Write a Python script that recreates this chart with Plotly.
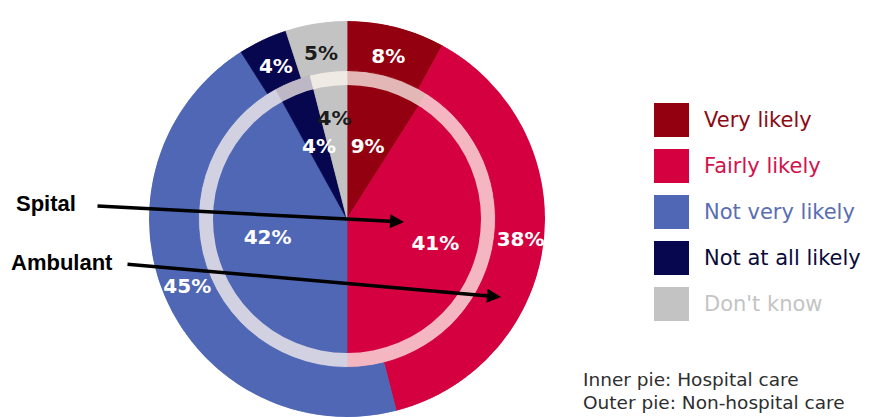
import plotly.graph_objects as go

# Survey answers: likelihood of choosing each kind of care
categories = ["Very likely", "Fairly likely", "Not very likely", "Not at all likely", "Don't know"]
hospital_pct = [9, 41, 42, 4, 4]        # inner pie: hospital care
non_hospital_pct = [8, 38, 45, 4, 5]    # outer ring: non-hospital care
footnotes = ["Inner pie: Hospital care", "Outer pie: Non-hospital care"]
pointer_labels = ["Spital", "Ambulant"]

# Styling
slice_colors = ["#93000f", "#d4003f", "#4f67b5", "#07074f", "#c3c3c3"]
legend_text_colors = ["#8c0a14", "#d0134d", "#5a6db3", "#0a0a3a", "#c4c4c4"]
pct_text_colors = ["white", "white", "white", "white", "#1c1c1c"]

W, H = 870, 417
CX, CY, R = 347, 219, 198          # pie centre / outer radius (px)
R_INNER = 134                      # inner pie radius
R_RING = 148.5                     # outer edge of the pale separator ring
INNER_LABEL_R = [74, 92, 82, 76, 100]
OUTER_LABEL_R = [166, 175, 174, 167, 166]


def slice_geometry(values):
    """Mid angle and angular width (degrees, clockwise from 12 o'clock)."""
    mids, widths, start = [], [], 0.0
    for v in values:
        w = v * 3.6
        mids.append(start + w / 2)
        widths.append(w)
        start += w
    return mids, widths


def px(x, y):
    return x / W, 1 - y / H


in_mid, in_w = slice_geometry(hospital_pct)
out_mid, out_w = slice_geometry(non_hospital_pct)

fig = go.Figure()

# inner pie (extends under the separator ring)
fig.add_trace(go.Barpolar(
    theta=in_mid, width=in_w, base=[0] * len(in_mid), r=[R_RING] * len(in_mid),
    marker=dict(color=slice_colors, line=dict(color=slice_colors, width=0.8)),
    hoverinfo="skip", showlegend=False))

# translucent separator ring
fig.add_trace(go.Barpolar(
    theta=[180], width=[360], base=[R_INNER], r=[R_RING - R_INNER],
    marker=dict(color="rgba(255,247,240,0.74)", line=dict(width=0)),
    hoverinfo="skip", showlegend=False))

# outer ring
fig.add_trace(go.Barpolar(
    theta=out_mid, width=out_w, base=[R_RING] * len(out_mid), r=[R - R_RING] * len(out_mid),
    marker=dict(color=slice_colors, line=dict(color=slice_colors, width=0.8)),
    hoverinfo="skip", showlegend=False))

# percentage labels
fig.add_trace(go.Scatterpolar(
    theta=in_mid + out_mid,
    r=INNER_LABEL_R + OUTER_LABEL_R,
    text=[f"{v}%" for v in hospital_pct + non_hospital_pct],
    mode="text",
    textfont=dict(family="DejaVu Sans", size=20, weight="bold",
                  color=pct_text_colors + pct_text_colors),
    hoverinfo="skip", showlegend=False))

annotations = []
shapes = []

# legend: coloured squares with labels
LEG_X, LEG_Y0, LEG_STEP, SQ = 654, 103, 46, 34
for i, (cat, col, tcol) in enumerate(zip(categories, slice_colors, legend_text_colors)):
    top = LEG_Y0 + i * LEG_STEP
    x0, y1 = px(LEG_X, top)
    x1, y0 = px(LEG_X + SQ + 1, top + SQ)
    shapes.append(dict(type="rect", xref="paper", yref="paper",
                       x0=x0, x1=x1, y0=y0, y1=y1,
                       fillcolor=col, line=dict(width=0)))
    tx, ty = px(LEG_X + SQ + 14, top + SQ / 2)
    annotations.append(dict(xref="paper", yref="paper", x=tx, y=ty,
                            xanchor="left", yanchor="middle", showarrow=False,
                            text=cat, font=dict(family="DejaVu Sans", size=21, color=tcol)))

# footnotes
for i, note in enumerate(footnotes):
    nx, ny = px(581, 379 + i * 23)
    annotations.append(dict(xref="paper", yref="paper", x=nx, y=ny,
                            xanchor="left", yanchor="middle", showarrow=False,
                            text=note, font=dict(family="DejaVu Sans", size=18.5, color="#2e2e2e")))

# pointer labels with arrows into the inner pie and outer ring
label_pos = [(46, 203), (62, 262)]
arrow_tail = [(96, 206), (126, 264)]
arrow_tip = [(404, 222), (501, 297)]
for lab, (lx, ly), (ax_, ay_), (tx_, ty_) in zip(pointer_labels, label_pos, arrow_tail, arrow_tip):
    x, y = px(lx, ly)
    annotations.append(dict(xref="paper", yref="paper", x=x, y=y,
                            xanchor="center", yanchor="middle", showarrow=False,
                            text=f"<b>{lab}</b>",
                            font=dict(family="Liberation Sans", size=22, color="black")))
    tipx, tipy = px(tx_, ty_)
    annotations.append(dict(xref="paper", yref="paper", x=tipx, y=tipy,
                            ax=ax_ - tx_, ay=ay_ - ty_, text="",
                            showarrow=True, arrowhead=2, arrowsize=0.8,
                            arrowwidth=3.5, arrowcolor="black"))

dx0, _ = px(CX - R, 0)
dx1, _ = px(CX + R, 0)
_, dy1 = px(0, CY - R)
_, dy0 = px(0, CY + R)

fig.update_layout(
    width=W, height=H,
    margin=dict(l=0, r=0, t=0, b=0),
    paper_bgcolor="white",
    plot_bgcolor="white",
    showlegend=False,
    polar=dict(
        domain=dict(x=[dx0, dx1], y=[max(dy0, 0), dy1]),
        bgcolor="rgba(0,0,0,0)",
        barmode="overlay",
        radialaxis=dict(range=[0, R], visible=False),
        angularaxis=dict(rotation=90, direction="clockwise", visible=False),
    ),
    shapes=shapes,
    annotations=annotations,
)

fig.write_html("out.html")
